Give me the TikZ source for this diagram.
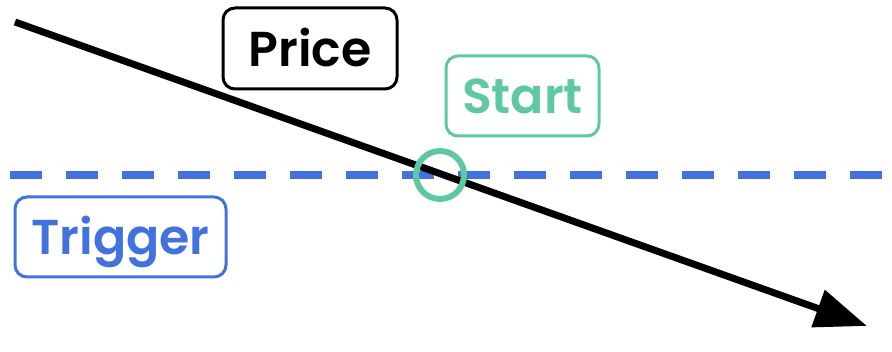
\documentclass[tikz,border=0pt]{standalone}
\usepackage{fontspec}
\setmainfont{Poppins}[BoldFont={Poppins SemiBold}]
\usepackage{tikz}
\usetikzlibrary{arrows.meta,positioning}
\definecolor{triggerblue}{RGB}{66,114,222}
\definecolor{startgreen}{RGB}{94,200,164}
\tikzset{
  tag/.style={draw, line width=3pt, rounded corners=12pt, inner sep=0pt,
    font=\fontsize{49}{58}\selectfont\bfseries, text depth=0pt, text height=36pt}
}

\begin{document}
\begin{tikzpicture}[x=1pt,y=-1pt,>=Latex]
\useasboundingbox (0,0) rectangle (892,352);
% trigger level
\coordinate (tleft) at (10,175);
\coordinate (tright) at (884,175);
\draw[triggerblue, line width=7.5pt, dash pattern=on 32pt off 24pt] (tleft) -- (tright);
% price path
\coordinate (pstart) at (15,22);
\coordinate (pend) at (867,326);
\draw[line width=7pt, -{Triangle[length=52pt,width=38pt]}] (pstart) -- (pend);
% crossing point
\node[draw=startgreen, circle, line width=6pt, minimum size=48pt, inner sep=0pt] (cross) at (440,175) {};
\node[tag, minimum width=174pt, minimum height=81pt] (price) at (310,48.5) {Price};
\node[tag, draw=startgreen, text=startgreen, minimum width=153pt, minimum height=80pt] (start) at (522.5,96) {Start};
\node[tag, draw=triggerblue, text=triggerblue, minimum width=211pt, minimum height=80pt] (trigger) at (120.5,237) {Trigger};
\end{tikzpicture}
\end{document}
